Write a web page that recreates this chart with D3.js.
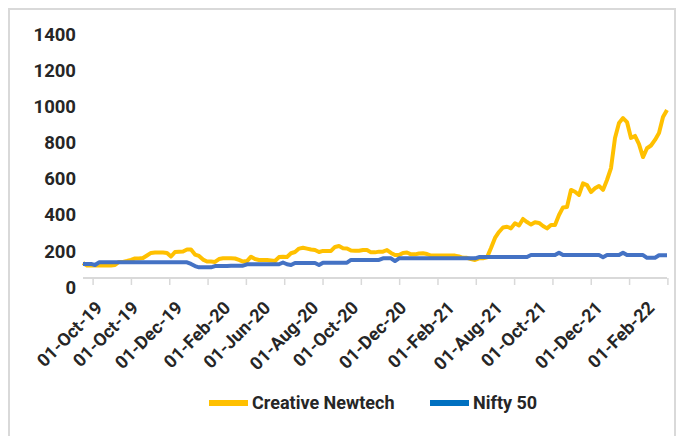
<!DOCTYPE html>
<html>
<head>
<meta charset="utf-8">
<script src="https://cdn.jsdelivr.net/npm/d3@7"></script>
<style>
    body { margin: 0; background: #fff; }
    text { font-family: Roboto, "Noto Sans", sans-serif; font-weight: bold; fill: #262626; }
</style>
</head>
<body>
<div id="chart"></div>
<script>
const creative = [
    83, 69, 69, 69, 69, 69, 69, 69, 72, 89, 89, 94, 100, 108, 108, 111, 125, 139, 141, 141,
    141, 139, 119, 144, 146, 147, 158, 158, 130, 122, 102, 91, 91, 89, 105, 109, 109, 109, 108, 100,
    91, 94, 118, 105, 100, 100, 100, 97, 94, 116, 118, 116, 137, 144, 163, 168, 163, 158, 155, 144,
    150, 150, 150, 172, 177, 165, 163, 152, 151, 151, 155, 155, 142, 142, 146, 146, 155, 139, 127, 127,
    139, 141, 131, 131, 136, 137, 133, 124, 124, 124, 124, 124, 124, 124, 119, 112, 112, 105, 100, 109,
    109, 114, 166, 222, 255, 280, 284, 275, 303, 291, 327, 310, 296, 309, 305, 288, 275, 294, 294, 349,
    391, 393, 488, 478, 460, 524, 515, 476, 497, 510, 488, 543, 609, 776, 859, 886, 864, 776, 787, 742,
    670, 719, 734, 765, 803, 892, 931
];

const nifty = [
    78, 78, 78, 72, 87, 87, 87, 87, 87, 87, 87, 87, 87, 87, 87, 87, 87, 87, 87, 87,
    87, 87, 87, 87, 87, 87, 87, 78, 66, 59, 59, 59, 59, 66, 66, 66, 66, 68, 68, 68,
    68, 76, 76, 76, 76, 76, 76, 76, 76, 76, 86, 76, 72, 83, 83, 83, 83, 83, 83, 72,
    85, 85, 85, 85, 85, 85, 85, 100, 100, 100, 100, 100, 100, 100, 100, 109, 109, 109, 94, 109,
    109, 109, 109, 109, 109, 109, 109, 109, 109, 109, 109, 109, 109, 109, 109, 109, 109, 109, 109, 116,
    116, 116, 116, 116, 116, 116, 116, 116, 116, 116, 116, 116, 127, 127, 127, 127, 127, 127, 127, 140,
    127, 127, 127, 127, 127, 127, 127, 127, 127, 127, 115, 127, 127, 127, 127, 140, 127, 127, 127, 127,
    127, 112, 112, 112, 126, 126, 126
];

const dateLabels = ['01-Oct-19', '01-Oct-19', '01-Dec-19', '01-Feb-20', '01-Jun-20', '01-Aug-20',
    '01-Oct-20', '01-Dec-20', '01-Feb-21', '01-Aug-21', '01-Oct-21', '01-Dec-21', '01-Feb-22'];
const labelIndex = [5, 14, 25, 37, 47, 59, 69, 81, 93, 105, 116, 130, 143];
const yTicks = [0, 200, 400, 600, 800, 1000, 1200, 1400];
const seriesNames = ['Creative Newtech', 'Nifty 50'];

const lineColors = ['#FFC000', '#4472C4'];
const legendColors = ['#FFC000', '#0070C0'];

const width = 680, height = 436;

const svg = d3.select('#chart').append('svg')
    .attr('width', width)
    .attr('height', height);

svg.append('rect')
    .attr('x', 9)
    .attr('y', 9)
    .attr('width', 666)
    .attr('height', 440)
    .attr('fill', '#fff')
    .attr('stroke', '#d9d9d9')
    .attr('stroke-width', 2);

const x = d3.scaleLinear()
    .domain([0, creative.length - 1])
    .range([83, 667]);

const y = d3.scaleLinear()
    .domain([0, 1400])
    .range([278, 25.3]);

// y labels sit a little below their values, as in the original
const yAxis = svg.append('g')
    .attr('transform', 'translate(79,0)')
    .call(d3.axisLeft(y).tickValues(yTicks).tickSize(0).tickPadding(3)
        .tickFormat(d3.format('d')));
yAxis.select('.domain').remove();
yAxis.selectAll('text')
    .attr('dy', '0.82em')
    .style('font-size', '18.5px');

const xg = svg.append('g')
    .attr('transform', `translate(0,${y(0)})`);

xg.append('line')
    .attr('x1', x(0))
    .attr('x2', x(creative.length - 1))
    .attr('stroke', '#d9d9d9')
    .attr('stroke-width', 2);

const marks = d3.range(2.4, creative.length, 9.58);
const markAxis = xg.append('g')
    .call(d3.axisBottom(x).tickValues(marks).tickSize(7).tickFormat(''));
markAxis.select('.domain').remove();
markAxis.selectAll('line')
    .attr('stroke', '#d9d9d9')
    .attr('stroke-width', 1.5);

const labelAxis = xg.append('g')
    .call(d3.axisBottom(x).tickValues(labelIndex).tickSize(0)
        .tickFormat((d, i) => dateLabels[i]));
labelAxis.select('.domain').remove();
labelAxis.selectAll('text')
    .attr('x', 0)
    .attr('y', 0)
    .attr('dy', 0)
    .attr('text-anchor', 'end')
    .attr('transform', 'translate(0,31) rotate(-45)')
    .style('font-size', '18px');

const line = d3.line()
    .x((d, i) => x(i))
    .y(d => y(d));

[creative, nifty].forEach((s, i) => {
    svg.append('path')
        .datum(s)
        .attr('fill', 'none')
        .attr('stroke', lineColors[i])
        .attr('stroke-width', 4)
        .attr('stroke-linejoin', 'round')
        .attr('d', line);
});

const legendX = [209, 430];
const legend = svg.selectAll('.legend')
    .data(seriesNames)
    .join('g')
    .attr('class', 'legend')
    .attr('transform', (d, i) => `translate(${legendX[i]},403)`);
legend.append('line')
    .attr('x1', 0)
    .attr('x2', 39)
    .attr('stroke', (d, i) => legendColors[i])
    .attr('stroke-width', 6);
legend.append('text')
    .attr('x', 43)
    .attr('y', 6)
    .style('font-size', '18px')
    .text(d => d);
</script>
</body>
</html>
